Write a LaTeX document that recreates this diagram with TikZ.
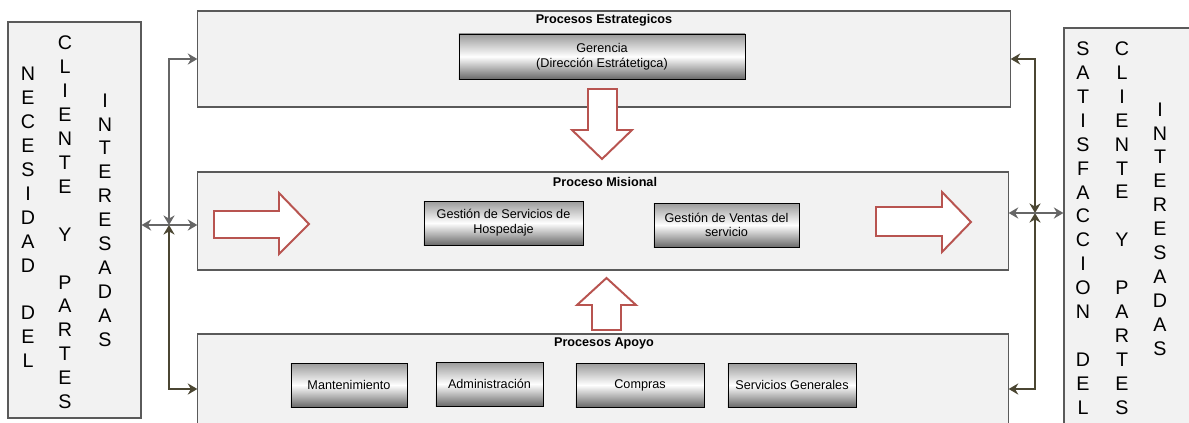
\documentclass[tikz,border=0pt]{standalone}
\usepackage{fontspec}
\setmainfont{Liberation Sans}
\usetikzlibrary{arrows.meta}
\definecolor{CPanel}{HTML}{F2F2F2}
\definecolor{CEdge}{HTML}{5A5A5A}
\definecolor{CLink}{HTML}{666666}
\definecolor{COlive}{HTML}{4B4632}
\definecolor{CRed}{HTML}{B85450}
\definecolor{CShadeTop}{HTML}{9A9A9A}
\definecolor{CShadeBot}{HTML}{6A6A6A}

\tikzset{
  panel/.style={draw=CEdge, fill=CPanel, line width=0.8pt, inner sep=0pt},
  procbox/.style={draw=black, line width=0.6pt, top color=CShadeTop, bottom color=CShadeBot, middle color=white,
    inner sep=0pt, minimum height=1.1cm, align=center, font=\fontsize{9}{10.5}\selectfont},
  boxtitle/.style={font=\bfseries\fontsize{9}{11}\selectfont, inner sep=0pt},
  letters/.style={align=center, inner sep=0pt, font=\fontsize{14}{17}\selectfont},
  bigarrow/.style={draw=CRed, fill=white, line width=1.4pt, line join=miter},
  link/.style={CLink, line width=1.2pt, >={Stealth[length=2.4mm,width=2.8mm,inset=0.8mm]}, <->},
  olivelink/.style={link, COlive},
}

\begin{document}
\begin{tikzpicture}[x=0.025cm, y=-0.025cm]
    \useasboundingbox (0,0) rectangle (1189,422);
    \clip (0,0) rectangle (1189,422);

    % Side panels
    \node[panel, minimum width=3.325cm, minimum height=9.9cm] (nec) at (74.5,220) {};
    \node[letters] (necA) at (28,217.5) {N\\E\\C\\E\\S\\I\\D\\A\\D\\[17pt]D\\E\\L};
    \node[letters] (necB) at (65,222.5) {C\\L\\I\\E\\N\\T\\E\\[17pt]Y\\[17pt]P\\A\\R\\T\\E\\S};
    \node[letters] (necC) at (105,220) {I\\N\\T\\E\\R\\E\\S\\A\\D\\A\\S};

    \node[panel, minimum width=3.65cm, minimum height=10.3cm] (sat) at (1137,234) {};
    \node[letters] (satA) at (1083,228) {S\\A\\T\\I\\S\\F\\A\\C\\C\\I\\O\\N\\[17pt]D\\E\\L};
    \node[letters] (satB) at (1122,228) {C\\L\\I\\E\\N\\T\\E\\[17pt]Y\\[17pt]P\\A\\R\\T\\E\\S};
    \node[letters] (satC) at (1160,229) {I\\N\\T\\E\\R\\E\\S\\A\\D\\A\\S};

    % Process groups
    \node[panel, minimum width=20.3cm, minimum height=2.4cm] (estr) at (604,59) {};
    \node[boxtitle] (estrT) at (604,20) {Procesos Estrategicos};
    \node[procbox, minimum width=7.15cm, minimum height=1.125cm] (ger) at (602,56.5) {Gerencia\\(Dirección Estrátetigca)};

    \node[panel, minimum width=20.25cm, minimum height=2.45cm] (mis) at (603,221) {};
    \node[boxtitle] (misT) at (605,182) {Proceso Misional};
    \node[procbox, minimum width=3.975cm] (hosp) at (503.5,223) {Gestión de Servicios de\\Hospedaje};
    \node[procbox, minimum width=3.625cm] (vent) at (726.5,225) {Gestión de Ventas del\\servicio};

    \node[panel, minimum width=20.25cm, minimum height=2.75cm] (apo) at (603,389) {};
    \node[boxtitle] (apoT) at (604,343) {Procesos Apoyo};
    \node[procbox, minimum width=2.9cm] (mant) at (349,385) {Mantenimiento};
    \node[procbox, minimum width=2.675cm] (adm) at (489.5,384) {Administración};
    \node[procbox, minimum width=3.2cm] (comp) at (640,385) {Compras};
    \node[procbox, minimum width=3.2cm] (serv) at (792,385) {Servicios Generales};

    % Block arrows
    \draw[bigarrow] (588,89) -- (617,89) -- (617,130) -- (632,130) -- (602,159) -- (572,130) -- (588,130) -- cycle;
    \draw[bigarrow] (592,330) -- (621,330) -- (621,305) -- (636,305) -- (606.5,278) -- (577,305) -- (592,305) -- cycle;
    \draw[bigarrow] (214,211) -- (279,211) -- (279,193) -- (309,224) -- (279,254) -- (279,238) -- (214,238) -- cycle;
    \draw[bigarrow] (876,207) -- (942,207) -- (942,192) -- (971,222) -- (942,252) -- (942,236) -- (876,236) -- cycle;

    % Links
    \coordinate (lj) at (169,225);
    \coordinate (rj) at (1035,213);
    \draw[link] (estr.west) -| (lj);
    \draw[olivelink] (apo.west) -| (lj);
    \draw[link] (nec.east |- lj) -- (mis.west |- lj);
    \draw[olivelink] (estr.east) -| (rj);
    \draw[olivelink] (apo.east) -| (rj);
    \draw[link] (mis.east |- rj) -- (sat.west |- rj);
\end{tikzpicture}
\end{document}
